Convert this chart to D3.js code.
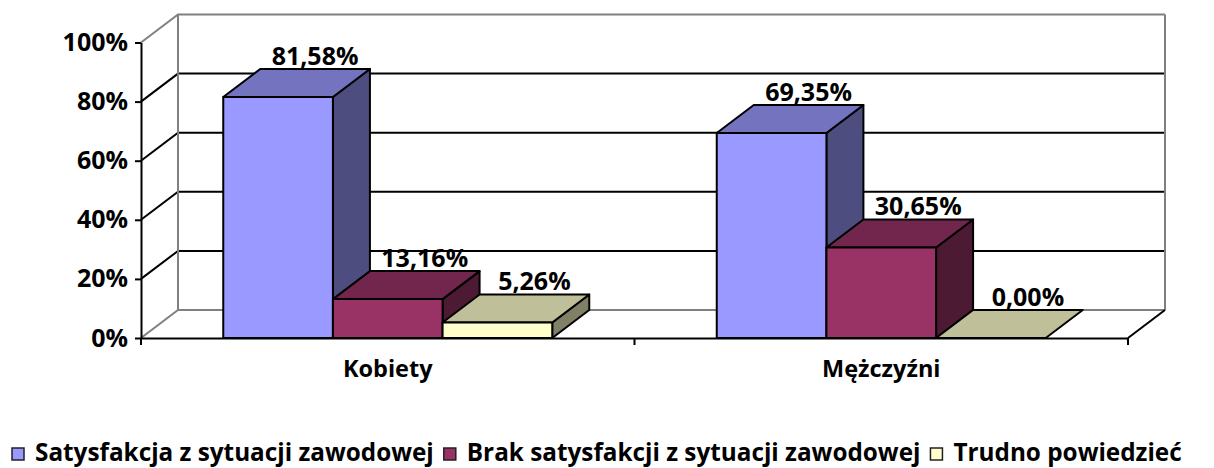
<!DOCTYPE html>
<html>
<head>
<meta charset="utf-8">
<script src="https://cdn.jsdelivr.net/npm/d3@7"></script>
<style>
  body { margin: 0; background: #fff; }
  text { font-family: "Open Sans", sans-serif; font-weight: 700; }
</style>
</head>
<body>
<div id="chart"></div>
<script>
/* DATA */
const categories = ["Kobiety", "Mężczyźni"];
const seriesNames = ["Satysfakcja z sytuacji zawodowej", "Brak satysfakcji z sytuacji zawodowej", "Trudno powiedzieć"];
const satysfakcja = [81.58, 69.35];
const brak = [13.16, 30.65];
const trudno = [5.26, 0.00];
const yTicks = [0, 20, 40, 60, 80, 100];

/* CONSTANTS */
const width = 1214;
const height = 468;
const plotLeft = 141, plotRight = 1128, plotBottom = 338, plotTop = 42.5;
const dx = 37, dy = -28;   // depth of the 3d box
const colors = ["#9999ff", "#993366", "#ffffcc"];
const gray = "#808080";

const values = [satysfakcja, brak, trudno];
const rows = [];
categories.forEach((c, i) => {
  seriesNames.forEach((s, j) => rows.push({ cat: c, series: s, value: values[j][i], k: j }));
});

/* SCALES */
const x0 = d3.scaleBand().domain(categories).range([plotLeft, plotRight]);
const x1 = d3.scaleBand().domain(seriesNames).range([0, x0.bandwidth()])
  .paddingInner(0).paddingOuter(0.75);
const y = d3.scaleLinear().domain([0, 100]).range([plotBottom, plotTop]);

const svg = d3.select("#chart").append("svg")
  .attr("width", width)
  .attr("height", height)
  .style("background-color", "white");

/* WALLS + GRID */
const grid = svg.append("g").attr("fill", "none").attr("stroke-width", 2);

grid.selectAll("path.grid")
  .data(yTicks)
  .join("path")
  .attr("class", "grid")
  .attr("stroke", d => (d === 0 || d === 100) ? gray : "#000")
  .attr("d", d => `M${plotLeft},${y(d)}L${plotLeft + dx},${y(d) + dy}L${plotRight + dx},${y(d) + dy}`);

// back wall sides
grid.append("path").attr("stroke", gray)
  .attr("d", `M${plotLeft + dx},${y(0) + dy}V${y(100) + dy}M${plotRight + dx},${y(0) + dy}V${y(100) + dy}`);
// floor right edge
grid.append("path").attr("stroke", "#000")
  .attr("d", `M${plotRight},${plotBottom}L${plotRight + dx},${plotBottom + dy}`);

/* BARS */
const darker = (c, f) => {
  const r = d3.rgb(c);
  return d3.rgb(r.r * f, r.g * f, r.b * f).formatHex();
};

const bars = svg.append("g")
  .attr("stroke", "#000")
  .attr("stroke-width", 2)
  .attr("stroke-linejoin", "round");

const bar = bars.selectAll("g")
  .data(rows)
  .join("g");

const bx = d => x0(d.cat) + x1(d.series);
const bw = x1.bandwidth();

// side face
bar.filter(d => d.value > 0).append("path")
  .attr("fill", d => darker(colors[d.k], 0.5))
  .attr("d", d => {
    const x = bx(d) + bw, yt = y(d.value);
    return `M${x},${plotBottom}L${x},${yt}L${x + dx},${yt + dy}L${x + dx},${plotBottom + dy}Z`;
  });
// top face
bar.append("path")
  .attr("fill", d => darker(colors[d.k], 0.75))
  .attr("d", d => {
    const x = bx(d), yt = y(d.value);
    return `M${x},${yt}L${x + dx},${yt + dy}L${x + bw + dx},${yt + dy}L${x + bw},${yt}Z`;
  });
// front face
bar.filter(d => d.value > 0).append("rect")
  .attr("fill", d => colors[d.k])
  .attr("x", bx)
  .attr("y", d => y(d.value))
  .attr("width", bw)
  .attr("height", d => plotBottom - y(d.value));

/* DATA LABELS */
svg.append("g")
  .attr("text-anchor", "middle")
  .attr("font-size", 25)
  .selectAll("text")
  .data(rows)
  .join("text")
  .attr("x", d => bx(d) + bw / 2 + dx)
  .attr("y", d => y(d.value) + dy - 4)
  .text(d => d3.format(".2f")(d.value).replace(".", ",") + "%");

/* AXES */
const yAxis = svg.append("g")
  .attr("transform", `translate(${plotLeft},0)`)
  .call(d3.axisLeft(y).tickValues(yTicks).tickFormat(d => d + "%").tickSize(6).tickSizeOuter(0).tickPadding(7));
yAxis.select(".domain").attr("stroke", "#000").attr("stroke-width", 2);
yAxis.selectAll(".tick line").attr("stroke", "#000").attr("stroke-width", 2);
yAxis.selectAll(".tick text")
  .attr("font-size", 25).attr("font-family", "Open Sans").attr("font-weight", 700).attr("fill", "#000");

const xAxis = svg.append("g")
  .attr("transform", `translate(0,${plotBottom})`)
  .call(d3.axisBottom(x0).tickSize(0).tickPadding(22).tickSizeOuter(0));
xAxis.select(".domain").attr("stroke", "#000").attr("stroke-width", 2);
xAxis.selectAll(".tick text")
  .attr("font-size", 23.5).attr("font-family", "Open Sans").attr("font-weight", 700).attr("fill", "#000");

// boundary ticks between categories
svg.append("g")
  .attr("stroke", "#000").attr("stroke-width", 2)
  .selectAll("line")
  .data([...categories.map(c => x0(c)), plotRight])
  .join("line")
  .attr("x1", d => d).attr("x2", d => d)
  .attr("y1", plotBottom).attr("y2", plotBottom + 7);

/* LEGEND */
const legend = svg.append("g").attr("transform", "translate(12,448)");
let lx = 0;
seriesNames.forEach((s, i) => {
  const item = legend.append("g").attr("transform", `translate(${lx},0)`);
  item.append("rect")
    .attr("width", 12).attr("height", 12)
    .attr("fill", colors[i])
    .attr("stroke", "#222").attr("stroke-width", 1.5);
  const t = item.append("text")
    .attr("x", 23).attr("y", 13)
    .attr("font-size", 24.3)
    .text(s);
  lx += 23 + t.node().getComputedTextLength() + 10;
});
</script>
</body>
</html>
